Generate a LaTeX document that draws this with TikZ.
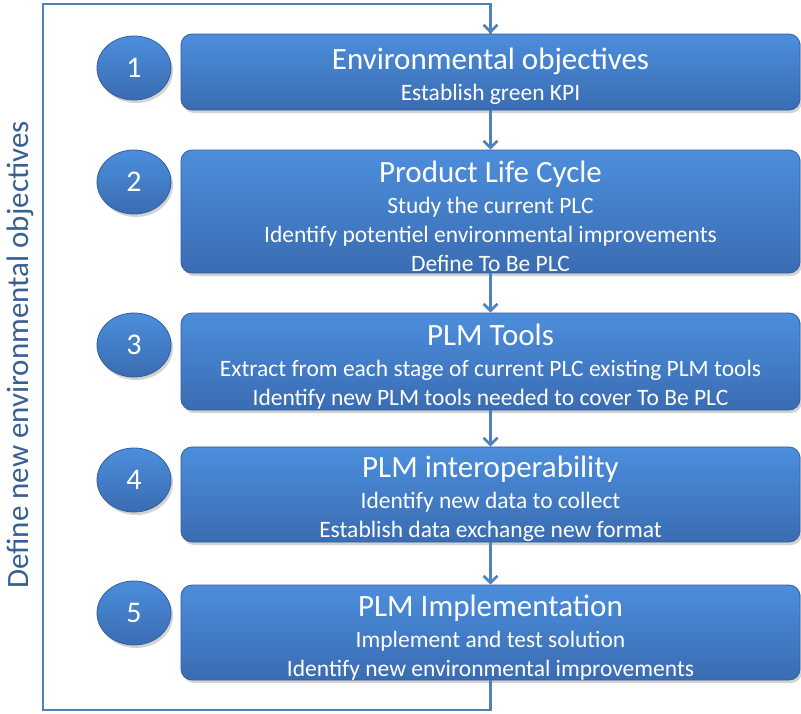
\documentclass[tikz,border=0pt]{standalone}
\usepackage{fontspec}
\setmainfont{Carlito}
\usetikzlibrary{shapes.geometric,shadows,arrows.meta}
\definecolor{boxtop}{RGB}{76,142,220}
\definecolor{boxbot}{RGB}{58,108,178}
\definecolor{boxedge}{RGB}{52,94,156}
\definecolor{linecol}{RGB}{79,129,189}
\definecolor{sidetext}{RGB}{55,96,146}
\tikzset{
  stepbox/.style={rectangle, rounded corners=11pt, draw=boxedge, line width=0.8pt,
    top color=boxtop, bottom color=boxbot, text=white, align=center,
    minimum width=619pt, inner sep=0pt,
    font=\fontsize{23.5}{29}\selectfont,
    drop shadow={shadow xshift=2pt, shadow yshift=-3pt, opacity=0.35}},
  numball/.style={ellipse, draw=boxedge, line width=0.8pt,
    top color=boxtop, bottom color=boxbot, text=white,
    minimum width=74pt, minimum height=64pt, inner sep=0pt,
    font=\fontsize{30}{34}\selectfont,
    drop shadow={shadow xshift=2pt, shadow yshift=-3pt, opacity=0.35}},
  flow/.style={draw=linecol, line width=2.6pt, -{Straight Barb[length=7pt,width=14pt,line width=2.6pt]}},
  loopline/.style={draw=linecol, line width=2.6pt},
}
\newcommand{\ttl}[1]{{\fontsize{31}{34}\selectfont\rule{0pt}{31pt}#1}}
\begin{document}
\begin{tikzpicture}[x=1pt,y=-1pt]
\useasboundingbox (0,0) rectangle (801,713);
% boxes
\node[stepbox, minimum height=76pt] (b1) at (490.5,72)
  {\ttl{Environmental objectives}\\[2pt] Establish green KPI};
\node[stepbox, minimum height=123pt] (b2) at (490.5,211.5)
  {\ttl{Product Life Cycle}\\[2pt] Study the current PLC\\ Identify potentiel environmental improvements\\ Define To Be PLC};
\node[stepbox, minimum height=97pt] (b3) at (490.5,361.5)
  {\ttl{PLM Tools}\\[2pt] Extract from each stage of current PLC existing PLM tools\\ Identify new PLM tools needed to cover To Be PLC};
\node[stepbox, minimum height=91pt] (b4) at (490.5,494.5)
  {\ttl{PLM interoperability}\\[2pt] Identify new data to collect\\ Establish data exchange new format};
\node[stepbox, minimum height=95pt] (b5) at (490.5,632.5)
  {\ttl{PLM Implementation}\\[2pt] Implement and test solution\\ Identify new environmental improvements};
% numbered ellipses
\node[numball] (n1) at (134,68) {1};
\node[numball] (n2) at (134,182) {2};
\node[numball] (n3) at (134,345) {3};
\node[numball] (n4) at (134,480) {4};
\node[numball] (n5) at (134,613) {5};
% flow arrows
\draw[flow] (b1.south) -- (b2.north);
\draw[flow] (b2.south) -- (b3.north);
\draw[flow] (b3.south) -- (b4.north);
\draw[flow] (b4.south) -- (b5.north);
% feedback loop
\coordinate (bl) at (43,710);
\coordinate (tl) at (43,4);
\draw[loopline, line join=miter] (b5.south) |- (bl) -- (tl) -| (b1.north);
\draw[flow] (b1.north) ++(0,-14) -- (b1.north);
% side label
\node[rotate=90, text=sidetext, font=\fontsize{31}{34}\selectfont] (side) at (20,355) {Define new environmental objectives};
\end{tikzpicture}
\end{document}
